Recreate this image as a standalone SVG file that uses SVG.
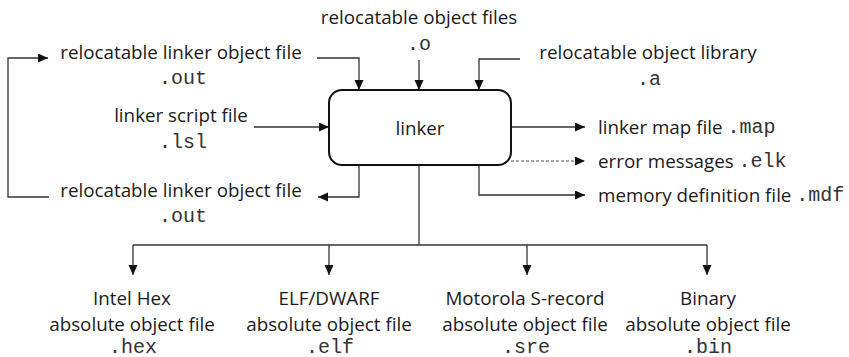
<svg xmlns="http://www.w3.org/2000/svg" width="849" height="357" viewBox="0 0 849 357">
<defs>
<marker id="ah" markerUnits="userSpaceOnUse" markerWidth="11" markerHeight="10" refX="10" refY="4.5" orient="auto">
<path d="M0,0 L10,4.5 L0,9 Z" fill="#111"/>
</marker>
<style>
.s{font-family:"Open Sans","Liberation Sans",sans-serif;font-size:18.8px;fill:#1a1a1a;dominant-baseline:central}
.m{font-family:"Liberation Mono","Courier New",monospace;font-size:20px;fill:#333;dominant-baseline:central}
.c{text-anchor:middle}
.ln{fill:none;stroke:#333;stroke-width:1.3}
.arr{marker-end:url(#ah)}
.dash{stroke:#888;stroke-dasharray:3 2}
</style>
</defs>
<rect width="849" height="357" fill="#fff"/>
<g id="connectors">
<path class="ln arr" d="M49,197 H8 V58 H48"/>
<path class="ln arr" d="M317,58 H359 V90"/>
<path class="ln arr" d="M419,60 V90"/>
<path class="ln arr" d="M520,59 H479 V90"/>
<path class="ln arr" d="M254,127 H329"/>
<path class="ln arr" d="M359,165 V197 H318"/>
<path class="ln arr" d="M511,127 H585"/>
<path class="ln arr dash" d="M511,161 H585"/>
<path class="ln arr" d="M479,165 V195 H585"/>
<path class="ln" d="M419,165 V245"/>
<path class="ln arr" d="M133,245 V275"/>
<path class="ln arr" d="M329,245 V275"/>
<path class="ln arr" d="M527,245 V275"/>
<path class="ln arr" d="M707,245 V275"/>
<path class="ln" d="M133,245 H707"/>
</g>
<g id="linker">
<rect x="329" y="90" width="182" height="75" rx="13" fill="#fff" stroke="#111" stroke-width="2"/>
<text class="s c" x="420" y="128">linker</text>
</g>
<g id="obj-files">
<text class="s c" x="419" y="17">relocatable object files</text>
<text class="m c" x="419" y="44">.o</text>
</g>
<g id="rel-out-in">
<text class="s c" x="181" y="52">relocatable linker object file</text>
<text class="m c" x="183" y="78">.out</text>
</g>
<g id="obj-lib">
<text class="s c" x="648" y="52">relocatable object library</text>
<text class="m c" x="649" y="79">.a</text>
</g>
<g id="script">
<text class="s c" x="181" y="115">linker script file</text>
<text class="m c" x="183" y="142">.lsl</text>
</g>
<g id="rel-out-out">
<text class="s c" x="181" y="190">relocatable linker object file</text>
<text class="m c" x="183" y="216">.out</text>
</g>
<g id="map">
<text class="s" x="598" y="127">linker map file <tspan class="m">.map</tspan></text>
</g>
<g id="elk">
<text class="s" x="598" y="161">error messages <tspan class="m">.elk</tspan></text>
</g>
<g id="mdf">
<text class="s" x="598" y="195">memory definition file <tspan class="m">.mdf</tspan></text>
</g>
<g id="hex">
<text class="s c" x="132" y="298">Intel Hex</text>
<text class="s c" x="132" y="324">absolute object file</text>
<text class="m c" x="133" y="347">.hex</text>
</g>
<g id="elf">
<text class="s c" x="329" y="298">ELF/DWARF</text>
<text class="s c" x="329" y="324">absolute object file</text>
<text class="m c" x="330" y="347">.elf</text>
</g>
<g id="sre">
<text class="s c" x="525" y="298">Motorola S-record</text>
<text class="s c" x="525" y="324">absolute object file</text>
<text class="m c" x="526" y="347">.sre</text>
</g>
<g id="bin">
<text class="s c" x="708" y="298">Binary</text>
<text class="s c" x="708" y="324">absolute object file</text>
<text class="m c" x="708" y="347">.bin</text>
</g>
</svg>
